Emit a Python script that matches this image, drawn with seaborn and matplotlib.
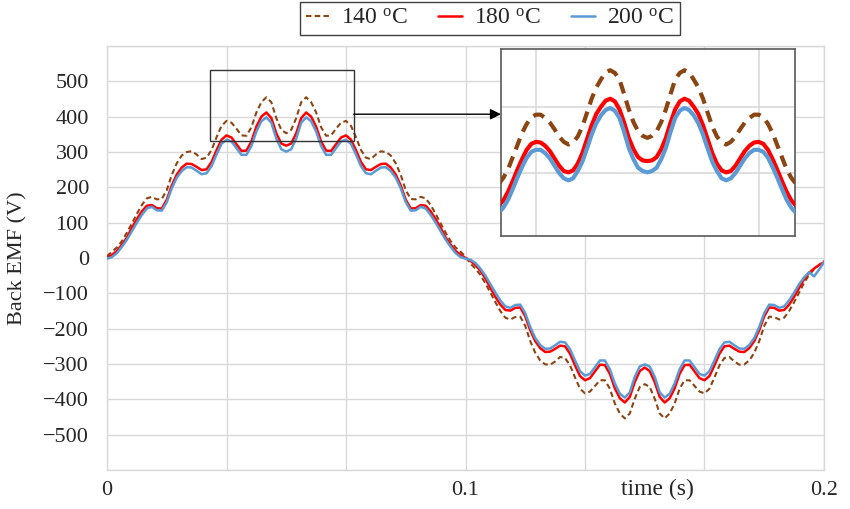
import numpy as np
import pandas as pd
import matplotlib
matplotlib.use("Agg")
import matplotlib.pyplot as plt
import matplotlib.patches as patches
import seaborn as sns

# ---------------- data ----------------
labels = ["140 $^{\\rm o}$C", "180 $^{\\rm o}$C", "200 $^{\\rm o}$C"]

# main chart samples, 0 .. 0.2 s
time_s = np.linspace(0.0, 0.2, 145)

emf_140 = [
    5, 18, 30, 48, 72, 98, 125, 150, 169, 173, 166, 167, 192, 235, 268, 290,
    300, 302, 293, 280, 284, 306, 342, 374, 388, 383, 366, 347, 346, 370, 412, 441, 455, 441, 396, 363, 353,
    363, 396, 441, 455, 441, 412, 370, 346, 347, 366, 383, 388, 374, 342, 306, 284, 280, 293, 302, 300,
    290, 268, 235, 192, 167, 166, 173, 169, 150, 125, 98, 72, 48, 30, 18, 4,
    -16, -30, -48, -72, -98, -125, -150, -169, -174, -167, -166, -192, -235, -268, -290,
    -301, -302, -293, -280, -283, -304, -338, -370, -383, -378, -362, -346, -346, -370, -412, -440, -454, -440, -398, -365, -357,
    -365, -398, -440, -454, -440, -412, -370, -346, -346, -362, -378, -383, -370, -338, -304, -283, -280, -293, -302, -301,
    -290, -268, -235, -192, -166, -167, -174, -169, -150, -125, -98, -70, -48, -32, -20, -8,
]

emf_180 = [
    0, 9, 20, 38, 58, 86, 110, 132, 148, 150, 141, 140, 165, 205, 236, 256,
    267, 266, 258, 249, 251, 272, 305, 335, 347, 341, 322, 303, 304, 330, 372, 400, 412, 396, 353, 324, 318,
    324, 353, 396, 412, 400, 372, 330, 304, 303, 322, 341, 347, 335, 305, 272, 251, 249, 258, 266, 267,
    256, 236, 205, 165, 140, 141, 150, 148, 132, 110, 86, 58, 38, 20, 9, 0,
    -8, -20, -36, -58, -85, -110, -132, -147, -149, -141, -140, -165, -204, -235, -255,
    -266, -265, -257, -248, -250, -271, -304, -334, -346, -340, -321, -302, -303, -328, -369, -397, -409, -393, -351, -320, -310,
    -320, -351, -393, -409, -397, -369, -328, -303, -302, -321, -340, -346, -334, -304, -271, -250, -248, -257, -265, -266,
    -255, -235, -204, -165, -140, -141, -149, -147, -132, -110, -85, -60, -42, -30, -20, -12,
]

emf_200 = [
    -2, 3, 14, 32, 52, 76, 100, 122, 140, 145, 135, 134, 158, 197, 227, 246,
    257, 256, 247, 237, 240, 260, 293, 323, 335, 330, 311, 292, 292, 317, 358, 387, 398, 383, 338, 308, 301,
    308, 338, 383, 398, 387, 358, 317, 292, 292, 311, 330, 335, 323, 293, 260, 240, 237, 247, 256, 257,
    246, 227, 197, 158, 134, 135, 145, 140, 122, 100, 76, 52, 32, 14, 3, -2,
    -5, -14, -30, -50, -74, -98, -120, -137, -141, -133, -132, -156, -195, -226, -246,
    -257, -256, -247, -237, -239, -258, -290, -320, -333, -328, -309, -290, -290, -315, -355, -384, -395, -380, -336, -307, -301,
    -307, -336, -380, -395, -384, -355, -315, -290, -290, -309, -328, -333, -320, -290, -258, -239, -237, -247, -256, -257,
    -246, -226, -195, -156, -132, -133, -141, -137, -120, -98, -74, -55, -40, -52, -33, -12,
]

# inset (zoomed crest) samples, read at finer spacing
inset_time_s = np.linspace(20, 52, 65) * (0.2 / 144)

inset_140 = [
    284, 293, 306, 324, 342, 360, 374, 384, 388, 388, 383, 376, 366, 355, 347, 343, 346, 355, 370, 391,
    412, 429, 441, 452, 455, 451, 441, 419, 396, 377, 363, 356, 353, 356, 363, 377, 396, 419, 441, 451,
    455, 452, 441, 429, 412, 391, 370, 355, 346, 343, 347, 355, 366, 376, 383, 388, 388, 384, 374, 360,
    342, 324, 306, 293, 284,
]
inset_180 = [
    251, 259, 272, 288, 305, 321, 335, 344, 347, 346, 341, 333, 322, 311, 303, 301, 304, 314, 330, 351,
    372, 389, 400, 409, 412, 408, 396, 376, 353, 336, 324, 319, 318, 319, 324, 336, 353, 376, 396, 408,
    412, 409, 400, 389, 372, 351, 330, 314, 304, 301, 303, 311, 322, 333, 341, 346, 347, 344, 335, 321,
    305, 288, 272, 259, 251,
]
inset_200 = [
    240, 248, 260, 276, 293, 309, 323, 332, 335, 335, 330, 322, 311, 300, 292, 289, 292, 303, 317, 337,
    358, 375, 387, 395, 398, 394, 383, 362, 338, 321, 308, 303, 301, 303, 308, 321, 338, 362, 383, 394,
    398, 395, 387, 375, 358, 337, 317, 303, 292, 289, 292, 300, 311, 322, 330, 335, 335, 332, 323, 309,
    293, 276, 260, 248, 240,
]

y_ticks = [-500, -400, -300, -200, -100, 0, 100, 200, 300, 400, 500]
x_ticks = [0.0, 0.1, 0.2]
x_tick_labels = ["0", "0.1", "0.2"]

# ---------------- style ----------------
sns.set_theme(style="white")
plt.rcParams["font.family"] = ["Liberation Serif", "DejaVu Serif"]
plt.rcParams["mathtext.fontset"] = "custom"
plt.rcParams["mathtext.rm"] = "Liberation Serif"
plt.rcParams["mathtext.it"] = "Liberation Serif:italic"

colors = ["#8B4513", "#FF0000", "#5B9BD5"]
grid_c = "#d9d9d9"

df = pd.DataFrame({
    "t": np.concatenate([time_s] * 3),
    "v": np.concatenate([emf_140, emf_180, emf_200]),
    "series": np.repeat(labels, len(time_s)),
})
df_in = pd.DataFrame({
    "t": np.concatenate([inset_time_s] * 3),
    "v": np.concatenate([inset_140, inset_180, inset_200]),
    "series": np.repeat(labels, len(inset_time_s)),
})

fig = plt.figure(figsize=(8.5, 5.09), dpi=100)
ax = fig.add_axes([0.1259, 0.0766, 0.8435, 0.833])

main_lw = {labels[0]: 1.5, labels[1]: 1.8, labels[2]: 1.8}
for lab, c in zip(labels, colors):
    sub = df[df["series"] == lab]
    ls = (0, (2.6, 1.6)) if lab == labels[0] else "-"
    sns.lineplot(data=sub, x="t", y="v", ax=ax, color=c, lw=main_lw[lab],
                 linestyle=ls, label=lab, legend=False, zorder=3)

ax.set_xlim(0, 0.2)
ax.set_ylim(-600, 600)
ax.set_yticks(y_ticks)
ax.set_yticks([-600, 600], minor=True)
ax.set_xticks(x_ticks)
ax.set_xticklabels(x_tick_labels)
ax.set_xticks([i / 30 for i in range(7)], minor=True)
ax.grid(True, which="both", color=grid_c, lw=1.0)
ax.set_axisbelow(True)
for s in ax.spines.values():
    s.set_color(grid_c)
    s.set_linewidth(1.0)
ax.tick_params(axis="both", which="both", length=0)
ax.tick_params(axis="y", pad=13, labelsize=16)
ax.tick_params(axis="x", pad=8, labelsize=16)

ax.set_ylabel("Back EMF (V)", fontsize=16)
ax.yaxis.set_label_coords(-0.124, 0.5)
ax.yaxis.label.set_va("center")
ax.set_xlabel("time (s)", fontsize=17)
ax.xaxis.set_label_coords(0.768, -0.047)
ax.xaxis.label.set_va("center")

# zoom rectangle and arrow
rect = patches.Rectangle((0.02873, 331), 0.0401, 201, fill=False,
                         ec="#333333", lw=1.0, zorder=5)
ax.add_patch(rect)
ax.annotate("", xy=(0.1099, 407), xytext=(0.06883, 407),
            arrowprops=dict(arrowstyle="-|>", color="black", lw=1.0,
                            mutation_scale=16, shrinkA=0, shrinkB=0),
            annotation_clip=False, zorder=6)

# inset
axin = fig.add_axes([0.5894, 0.5363, 0.3459, 0.3674])
axin.set_facecolor("white")
for lab, c in zip(labels, colors):
    sub = df_in[df_in["series"] == lab]
    ls = (0, (2.8, 1.8)) if lab == labels[0] else "-"
    sns.lineplot(data=sub, x="t", y="v", ax=axin, color=c, lw=3.0,
                 linestyle=ls, legend=False, zorder=3)
axin.set_xlim(0.0281, 0.0721)
axin.set_ylim(205, 487)
axin.set_xticks([1 / 30, 2 / 30])
axin.set_yticks([300, 400])
axin.set_xticklabels([])
axin.set_yticklabels([])
axin.tick_params(length=0)
axin.set_xlabel("")
axin.set_ylabel("")
axin.grid(True, color=grid_c, lw=1.2)
axin.set_axisbelow(True)
for s in axin.spines.values():
    s.set_color("#595959")
    s.set_linewidth(1.2)

# legend
handles, labs = ax.get_legend_handles_labels()
leg = fig.legend(handles, labs, loc="upper center", bbox_to_anchor=(0.576, 0.997),
                 ncol=3, fontsize=17, frameon=True, fancybox=False, framealpha=1,
                 edgecolor="#404040", handlelength=1.0, handletextpad=0.5,
                 columnspacing=1.3, borderpad=0.25, borderaxespad=0)
leg.get_frame().set_linewidth(1.0)

fig.savefig("out.png", dpi=100)
